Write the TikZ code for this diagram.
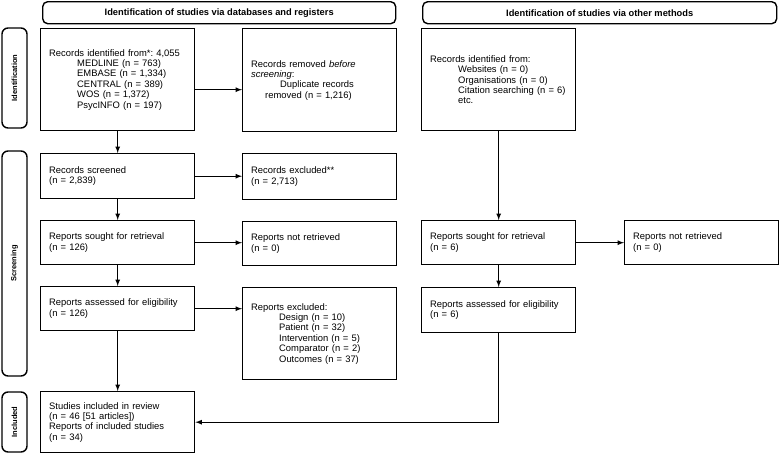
\documentclass[tikz,border=0pt]{standalone}
\usepackage{fontspec}
\setmainfont{Liberation Sans}
\frenchspacing
\newcommand{\tabin}{\hspace*{28pt}}
\begin{document}
\begin{tikzpicture}[x=1pt,y=-1pt,
        box/.style={draw, line width=1.4pt, anchor=north west, inner xsep=8.5pt, text width=137pt, align=left, font=\fontsize{9.4}{10.4}\selectfont},
        header/.style={draw, line width=1.4pt, rounded corners=5pt, anchor=north west, minimum height=22pt, font=\bfseries\fontsize{9.3}{11}\selectfont},
        side/.style={draw, line width=1.4pt, rounded corners=6pt, rotate=90, minimum height=25pt, font=\bfseries\fontsize{7.5}{9}\selectfont},
        link/.style={-latex, line width=1.2pt}]
        \useasboundingbox (0,0) rectangle (780,453);
        % headers and phases
        \node[header, minimum width=353pt] (headDb) at (42,1) {Identification of studies via databases and registers};
        \node[header, minimum width=354pt] (headOther) at (422,1) {Identification of studies via other methods};
        \node[side, minimum width=100pt] (sideId) at (14.5,78) {Identification};
        \node[side, minimum width=225pt] (sideScr) at (14.5,263.5) {Screening};
        \node[side, minimum width=60pt] (sideInc) at (14.5,422) {Included};
        % databases and registers
        \node[box, minimum height=102pt] (idDb) at (40,28) {Records identified from*: 4,055\\ \tabin MEDLINE (n = 763)\\ \tabin EMBASE (n = 1,334)\\ \tabin CENTRAL (n = 389)\\ \tabin WOS (n = 1,372)\\ \tabin PsycINFO (n = 197)};
        \node[box, minimum height=103pt] (removed) at (242,28) {Records removed \textit{before}\\ \textit{screening}:\\ \hspace*{29pt}Duplicate records\\ \hspace*{14pt}removed (n = 1,216)};
        \node[box, minimum height=45pt] (screened) at (40,153) {Records screened\\(n = 2,839)};
        \node[box, minimum height=46pt] (excluded) at (242,153) {Records excluded**\\(n = 2,713)};
        \node[box, minimum height=44pt] (sought) at (40,220) {Reports sought for retrieval\\(n = 126)};
        \node[box, minimum height=44pt] (notRetr) at (242,221) {Reports not retrieved\\(n = 0)};
        \node[box, minimum height=44pt] (assessed) at (40,286) {Reports assessed for eligibility\\(n = 126)};
        \node[box, minimum height=92pt] (repExcl) at (242,287) {Reports excluded:\\ \tabin Design (n = 10)\\ \tabin Patient (n = 32)\\ \tabin Intervention (n = 5)\\ \tabin Comparator (n = 2)\\ \tabin Outcomes (n = 37)};
        \node[box, minimum height=61pt] (included) at (40,391) {Studies included in review\\(n = 46 [51 articles])\\Reports of included studies\\(n = 34)};
        % other methods
        \node[box, minimum height=102pt] (idOther) at (421,28) {Records identified from:\\ \tabin Websites (n = 0)\\ \tabin Organisations (n = 0)\\ \tabin Citation searching (n = 6)\\ \tabin etc.};
        \node[box, minimum height=44pt] (soughtOther) at (421,220) {Reports sought for retrieval\\(n = 6)};
        \node[box, minimum height=44pt] (notRetrOther) at (624,220) {Reports not retrieved\\(n = 0)};
        \node[box, minimum height=45pt] (assessedOther) at (421,287) {Reports assessed for eligibility\\(n = 6)};
        % arrows
        \draw[link] ([yshift=-10pt]idDb.east) -- ([yshift=-10pt]idDb.east -| removed.west);
        \draw[link] (idDb) -- (screened);
        \draw[link] (screened.east) -- (screened.east -| excluded.west);
        \draw[link] (screened) -- (sought);
        \draw[link] (sought.east) -- (sought.east -| notRetr.west);
        \draw[link] (sought) -- (assessed);
        \draw[link] (assessed.east) -- (assessed.east -| repExcl.west);
        \draw[link] (assessed) -- (included);
        \draw[link] (idOther) -- (soughtOther);
        \draw[link] (soughtOther) -- (notRetrOther);
        \draw[link] (soughtOther) -- (assessedOther);
        \draw[link] (assessedOther.south) |- (included.east);
    \end{tikzpicture}
\end{document}
